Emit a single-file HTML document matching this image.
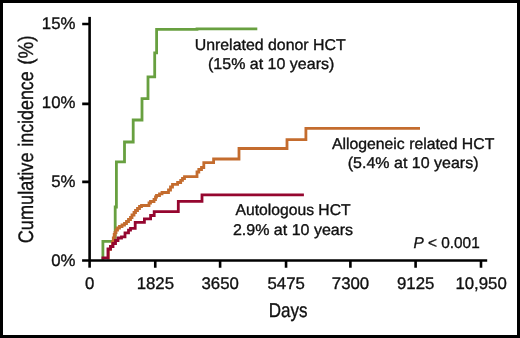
<!DOCTYPE html>
<html>
<head>
<meta charset="utf-8">
<style>
html,body{margin:0;padding:0;background:#fff;}
#frame{position:relative;width:520px;height:338px;box-sizing:border-box;border:3px solid #000;background:#fff;overflow:hidden;}
svg{position:absolute;left:-3px;top:-3px;will-change:transform;}
text{font-family:"Liberation Sans",sans-serif;text-rendering:geometricPrecision;fill:#111;stroke:#111;stroke-width:0.35px;}
</style>
</head>
<body>
<div id="frame">
<svg width="520" height="338" viewBox="0 0 520 338">
  <!-- curves -->
  <g fill="none" stroke-width="2.8" stroke-linejoin="miter" stroke-linecap="butt">
    <path stroke="#68a040" d="M102.9 260 V241.3 H115.2 V207 H116.4 V161.8 H124.5 V142 H133.2 V120 H142 V98.7 H148 V76.9 H154.7 V52.9 H156.6 V29.4 H197 V28.8 H257.3"/>
    <path stroke="#c46c2e" d="M108.3 259.5 V249.3 H110.5 V246.5 H112.5 V242 H113.3 V238 H114.2 V234.5 H115 V232.5 H116 V230 H117.5 V228 H119.5 V226.5 H122 V225 H124.5 V223.5 H126.5 V221.5 H128.5 V219.5 H130.5 V217.5 H132 V215 H134 V212.5 H135.5 V210.5 H137.5 V208.5 H139.5 V206.5 H141.5 V205.5 H149 V203 H150.5 V201.5 H154 V199.5 H155.5 V197 H156.5 V195.5 H159.5 V193.8 H162 V192.5 H168.5 V190 H170.5 V187 H172.5 V184.3 H177.6 V182.5 H180.7 V180.3 H182.5 V178.5 H184.5 V176.6 H197 V172 H198.8 V169.5 H201.5 V167.5 H203.8 V162.6 H213.6 V159 H239 V148.5 H287 V139.6 H305.9 V128.4 H420"/>
    <path stroke="#95062f" d="M101.5 257.9 H108 V249 H110.5 V246.5 H113 V243.5 H115.5 V240.5 H118 V238 H121.5 V236.8 H125 V232.8 H128.5 V230.2 H130.5 V228.3 H135.2 V222.3 H144.4 V218.8 H150.6 V215.5 H154.2 V211.6 H178.3 V201.4 H202 V194.9 H303.9"/>
  </g>
  <!-- axes -->
  <g stroke="#000" stroke-width="2.6" fill="none">
    <path d="M89.6 16.9 V267.7"/>
    <path d="M82.1 260.5 H487.2"/>
    <path d="M82.2 24.05 H89.75 M82.2 103.85 H89.75 M82.2 181.85 H89.75"/>
    <path d="M155.25 260.5 V267.7 M220.1 260.5 V267.7 M286.05 260.5 V267.7 M350.4 260.5 V267.7 M415.6 260.5 V267.7 M481 260.5 V267.7"/>
  </g>
  <!-- y tick labels -->
  <g font-size="16.8" text-anchor="end">
    <text x="75.4" y="29.3">15%</text>
    <text x="75.4" y="108.1">10%</text>
    <text x="75.4" y="186.8">5%</text>
    <text x="75.4" y="265.9">0%</text>
  </g>
  <!-- x tick labels -->
  <g font-size="16.8" text-anchor="middle">
    <text x="89.7" y="289.4">0</text>
    <text x="155.35" y="289.4">1825</text>
    <text x="220.2" y="289.4">3650</text>
    <text x="286.15" y="289.4">5475</text>
    <text x="350.5" y="289.4">7300</text>
    <text x="415.7" y="289.4">9125</text>
    <text x="481.1" y="289.4">10,950</text>
  </g>
  <!-- axis titles -->
  <text font-size="20" x="268.8" y="317.2" textLength="38.8" lengthAdjust="spacingAndGlyphs">Days</text>
  <g font-size="21">
    <text transform="translate(32.7 243.3) rotate(-90)" textLength="90.85" lengthAdjust="spacingAndGlyphs">Cumulative</text>
    <text transform="translate(32.7 146.75) rotate(-90)" textLength="75.5" lengthAdjust="spacingAndGlyphs">incidence</text>
    <text transform="translate(32.7 64.8) rotate(-90)" textLength="29.3" lengthAdjust="spacingAndGlyphs">(%)</text>
  </g>
  <!-- annotations -->
  <g font-size="15.6">
    <text x="194.7" y="49.8" textLength="151.0" lengthAdjust="spacingAndGlyphs">Unrelated donor HCT</text>
    <text x="208" y="68.8" textLength="126.3" lengthAdjust="spacingAndGlyphs">(15% at 10 years)</text>
    <text x="331.9" y="148.8" textLength="162.4" lengthAdjust="spacingAndGlyphs">Allogeneic related HCT</text>
    <text x="347.8" y="167.9" textLength="130.7" lengthAdjust="spacingAndGlyphs">(5.4% at 10 years)</text>
    <text x="235.6" y="215.4" textLength="115.0" lengthAdjust="spacingAndGlyphs">Autologous HCT</text>
    <text x="232.9" y="234.6" textLength="120.2" lengthAdjust="spacingAndGlyphs">2.9% at 10 years</text>
    <text x="413.5" y="248" textLength="66.2" lengthAdjust="spacingAndGlyphs"><tspan font-style="italic">P</tspan> &lt; 0.001</text>
  </g>
</svg>
</div>
</body>
</html>
